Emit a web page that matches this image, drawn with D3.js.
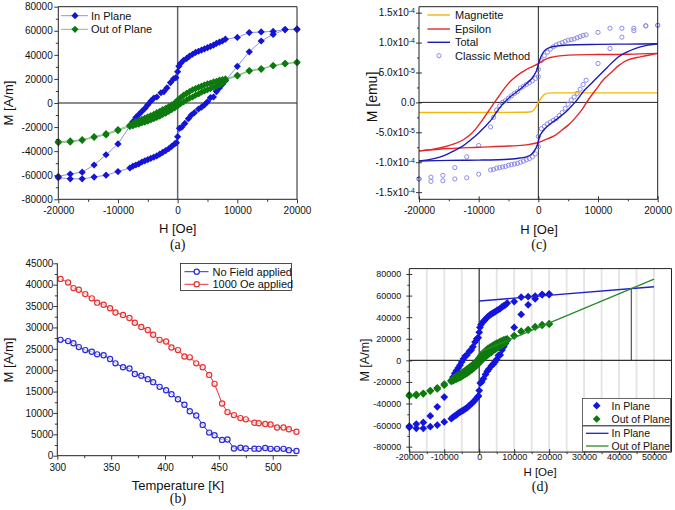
<!DOCTYPE html>
<html><head><meta charset="utf-8">
<script src="https://cdn.jsdelivr.net/npm/d3@7"></script>
<style>body{margin:0;background:#fff}svg{display:block}</style>
</head><body>
<script>
// ---------------- DATA ----------------
// Panel (a) & (d): hysteresis loops, H [Oe], M [A/m]
const inUpH = [20000,18000,16000,14000,12000,10000,8000,7500,7000,6500,6000,5500,5000,4500,4000,3500,3000,2500,2000,1500,1000,500,200,0,-300,-700,-1200,-1800,-2300,-2800,-3500,-4000,-4500,-5000,-5500,-6000,-6500,-7000,-7500,-8000,-10000,-12000,-14000,-16000,-18000,-20000];
const inUpM = [61000,61000,59500,59000,58500,54500,53000,51500,50500,49500,48000,47000,46000,45000,44000,43000,42000,40500,39000,37000,35500,33000,30500,26000,21000,20000,17000,12500,9500,8500,5000,4000,1500,-1500,-4500,-7000,-9500,-12000,-15500,-19000,-34000,-43000,-51500,-57500,-59000,-61000];
const inLoH = [-20000,-18000,-16000,-14000,-12000,-10000,-8000,-7500,-7000,-6500,-6000,-5500,-5000,-4500,-4000,-3500,-3000,-2500,-2000,-1500,-1000,-500,-200,0,300,700,1200,1800,2300,2800,3500,4000,4500,5000,5500,6000,6500,7000,7500,8000,10000,12000,14000,16000,18000,20000];
const inLoM = [-62000,-63000,-63000,-61500,-60000,-57000,-54000,-52500,-51500,-50500,-49000,-48000,-47000,-46000,-45000,-44000,-42500,-41000,-39500,-38000,-36000,-34000,-33000,-28000,-21000,-20000,-17000,-13000,-10000,-8000,-5000,-3500,-1500,1000,4500,5000,9500,12500,15500,18500,30500,42500,51500,57000,61000,61500];
const outUpH = [20000,18000,16000,14000,12000,10000,8000,7500,7000,6500,6000,5500,5000,4500,4000,3500,3000,2500,2000,1500,1000,500,0,-500,-1000,-1500,-2000,-2500,-3000,-3500,-4000,-4500,-5000,-5500,-6000,-6500,-7000,-7500,-8000,-10000,-12000,-14000,-16000,-18000,-20000];
const outUpM = [33500,33000,31000,28500,27000,23000,20000,19500,19000,18000,17500,16500,16000,15000,14000,13000,12000,11000,9500,8000,6500,4500,2500,0,-1500,-3000,-4500,-5500,-7000,-8000,-9500,-10500,-11500,-12500,-13500,-14500,-15500,-17000,-18500,-22000,-25500,-28000,-30500,-31500,-32000];
const outLoH = [-20000,-18000,-16000,-14000,-12000,-10000,-8000,-7500,-7000,-6500,-6000,-5500,-5000,-4500,-4000,-3500,-3000,-2500,-2000,-1500,-1000,-500,0,500,1000,1500,2000,2500,3000,3500,4000,4500,5000,5500,6000,6500,7000,7500,8000,10000,12000,14000,16000,18000,20000];
const outLoM = [-33000,-32500,-31000,-28500,-26500,-23000,-19500,-19000,-18000,-17500,-16500,-16000,-15000,-14000,-13000,-12000,-11000,-9500,-8500,-7000,-5500,-4000,-2500,-500,1000,2500,4000,5000,6500,7500,9000,10000,11000,12000,13000,14000,15000,16500,19000,22500,26500,28000,31000,32500,34000];
// Panel (d) linear fits (endpoints) and intersection
const fitH = [0, 50000];
const fitInM = [55000, 68200];
const fitOutM = [7400, 75300];
const crossH = 43500, crossM = 66500;

// Panel (b): M vs temperature
const tempK = [303,310,315,320,326,332,337,343,349,354,361,367,372,378,384,389,395,401,406,412,418,423,429,435,441,446,453,458,464,470,475,483,487,493,498,504,510,515,522];
const noFieldM = [27100,26800,26300,25400,24700,24300,23700,23500,22600,21600,20700,20400,19100,18700,17900,17200,16100,15300,14400,13200,11900,10400,9400,7200,5400,4800,3700,3800,1700,1850,1700,1650,1600,1800,1600,1600,1600,1300,1100];
const field1000M = [41350,40500,39200,38800,37800,36800,35800,35300,34500,33500,32900,32200,31100,30100,29400,28300,27100,26700,25300,24700,23200,23000,21600,20700,18900,16800,12200,10200,9500,8800,8500,7700,7600,7400,7300,6600,6600,6200,5600];

// Panel (c): M [emu] vs H [Oe]
const magH = [-20000,-10000,-3000,-1500,-1000,-500,0,500,1000,1500,3000,10000,20000];
const magM = [-17e-6,-17e-6,-16.5e-6,-16e-6,-14.5e-6,-9e-6,0,8e-6,13e-6,15.5e-6,16e-6,16e-6,16e-6];
const epsUpH = [20000,15000,10000,5000,2000,1000,0,-1000,-2000,-3000,-4500,-5500,-6700,-7500,-9000,-10000,-11200,-12500,-14000,-16000,-18000,-20000];
const epsUpM = [82e-6,80.5e-6,80e-6,79e-6,75e-6,71e-6,65e-6,60e-6,55e-6,49e-6,37e-6,26e-6,9e-6,-2e-6,-24e-6,-38e-6,-52e-6,-62e-6,-69e-6,-75e-6,-79e-6,-81e-6];
const epsLoH = [-20000,-15000,-10000,-5000,-2000,0,1000,2800,4000,5000,6000,7250,8350,10000,11000,12300,13500,15000,16500,18000,20000];
const epsLoM = [-81e-6,-77e-6,-75e-6,-73e-6,-71e-6,-67e-6,-63e-6,-55e-6,-46e-6,-38e-6,-28e-6,-13e-6,4e-6,26e-6,39e-6,51e-6,62e-6,71e-6,75e-6,78e-6,82e-6];
const totUpH = [20000,15000,10000,5000,3000,2000,1200,600,200,0,-300,-1100,-2000,-2800,-4500,-5300,-6150,-7000,-7800,-9000,-10000,-11500,-12800,-14000,-15600,-17500,-20000];
const totUpM = [98e-6,97.5e-6,97e-6,96e-6,94e-6,92e-6,88e-6,80e-6,70e-6,64e-6,53e-6,40e-6,31e-6,24e-6,11e-6,4e-6,-5e-6,-16e-6,-28e-6,-41e-6,-51e-6,-64e-6,-74e-6,-80e-6,-88e-6,-94e-6,-98e-6];
const totLoH = [-20000,-15000,-10000,-5000,-3000,-2000,-1200,-600,-200,0,300,1100,2000,2800,4500,5300,6150,7000,7800,9000,10000,11500,13400,15000,16200,18000,20000];
const totLoM = [-98e-6,-97e-6,-96.5e-6,-95e-6,-93e-6,-91e-6,-87e-6,-80e-6,-72e-6,-65e-6,-55e-6,-44e-6,-36e-6,-30e-6,-17e-6,-9e-6,0,11e-6,21e-6,33e-6,43e-6,58e-6,76e-6,85e-6,90e-6,95e-6,98e-6];
const clUpH = [20000,18000,16000,14000,12000,10000,8000,7500,7000,6500,6000,5500,5000,4500,4000,3500,3000,2500,2000,1500,1000,500,0,0,-500,-1000,-1500,-2000,-2500,-3000,-3500,-4000,-4500,-5000,-5500,-6000,-6500,-7000,-7500,-8000,-10000,-12000,-14000,-16000,-18000,-20000];
const clUpM = [129e-6,128e-6,124e-6,124e-6,124e-6,117e-6,113e-6,112e-6,110e-6,108e-6,106e-6,105e-6,104e-6,102e-6,100e-6,98e-6,96e-6,93e-6,89e-6,84e-6,78e-6,70e-6,55e-6,43e-6,40e-6,36e-6,33e-6,30e-6,27e-6,24e-6,18e-6,15e-6,11e-6,7e-6,3e-6,0,-6e-6,-13e-6,-25e-6,-41e-6,-72e-6,-91e-6,-109e-6,-122e-6,-125e-6,-128e-6];
const clLoH = [-20000,-18000,-16000,-14000,-12000,-10000,-8000,-7500,-7000,-6500,-6000,-5500,-5000,-4500,-4000,-3500,-3000,-2500,-2000,-1500,-1000,-500,0,0,500,1000,1500,2000,2500,3000,3500,4000,4500,5000,5500,6000,6500,7000,7500,8000,10000,12000,14000,16000,18000,20000];
const clLoM = [-128e-6,-132e-6,-131e-6,-128e-6,-126e-6,-120e-6,-113e-6,-112e-6,-110e-6,-109e-6,-108e-6,-107e-6,-105e-6,-104e-6,-103e-6,-102e-6,-100e-6,-98e-6,-96e-6,-94e-6,-91e-6,-86e-6,-74e-6,-57e-6,-44e-6,-40e-6,-36e-6,-33e-6,-30e-6,-27e-6,-22e-6,-17e-6,-10e-6,-3e-6,4e-6,9e-6,15e-6,22e-6,30e-6,37e-6,65e-6,90e-6,109e-6,120e-6,128e-6,129e-6];

// Ticks
const aXTicks = [-20000,-10000,0,10000,20000], aXMinor = [-15000,-5000,5000,15000];
const aYTicks = [-80000,-60000,-40000,-20000,0,20000,40000,60000,80000], aYMinor = [-70000,-50000,-30000,-10000,10000,30000,50000,70000];
const bXTicks = [300,350,400,450,500], bXMinor = [325,375,425,475,525].filter(v=>v<=523);
const bYTicks = [0,5000,10000,15000,20000,25000,30000,35000,40000,45000], bYMinor = [2500,7500,12500,17500,22500,27500,32500,37500,42500];
const cXTicks = aXTicks, cXMinor = aXMinor;
const cYTicks = [-1.5e-4,-1.0e-4,-5e-5,0,5e-5,1.0e-4,1.5e-4], cYMinor = [-1.25e-4,-7.5e-5,-2.5e-5,2.5e-5,7.5e-5,1.25e-4];
const cYMant = ["-1.5","-1.0","-5.0","0.0","5.0","1.0","1.5"], cYExp = ["-4","-4","-5","","-5","-4","-4"];
const dXTicks = [-20000,-10000,0,10000,20000,30000,40000,50000], dXMinor = [-15000,-5000,5000,15000,25000,35000,45000,55000];
const dGrid = [-15000,-10000,-5000,5000,10000,15000,20000,25000,30000,35000,40000,45000,50000];
const dYTicks = aYTicks, dYMinor = aYMinor;

// ---------------- DRAW ----------------
const FONT = "'Liberation Sans', Arial, sans-serif", SERIF = "'Liberation Serif','Times New Roman',serif";
const svg = d3.select("body").append("svg").attr("width",675).attr("height",510);
const zip = (a,b)=>a.map((v,i)=>[v,b[i]]);

function axes(o){
  const g = svg.append("g");
  const x=o.x, y=o.y, [xl,xr]=x.range(), [yb,yt]=y.range();
  const bt=`translate(0,${yb})`, lt=`translate(${xl},0)`;
  const tk=(fn,sc,vals,size,tr)=>{ if(!size) return; const a=g.append("g").attr("transform",tr).call(fn(sc).tickValues(vals).tickSize(size).tickSizeOuter(0).tickFormat("")); a.select(".domain").remove(); a.selectAll("line").attr("stroke","#222").attr("stroke-width",0.9); };
  tk(d3.axisBottom,x,o.xMajor,o.majOut,bt); tk(d3.axisBottom,x,o.xMajor,-(o.majIn||0),bt);
  tk(d3.axisBottom,x,o.xMinor,o.minOut,bt); tk(d3.axisBottom,x,o.xMinor,-(o.minIn||0),bt);
  tk(d3.axisLeft,y,o.yMajor,o.majOut,lt); tk(d3.axisLeft,y,o.yMajor,-(o.majIn||0),lt);
  tk(d3.axisLeft,y,o.yMinor,o.minOut,lt); tk(d3.axisLeft,y,o.yMinor,-(o.minIn||0),lt);
  const xl_ = g.append("g").attr("transform",bt).call(d3.axisBottom(x).tickValues(o.xMajor).tickSize(0).tickPadding(o.xPad).tickFormat(d=>String(d)));
  const yl_ = g.append("g").attr("transform",lt).call(d3.axisLeft(y).tickValues(o.yMajor).tickSize(0).tickPadding(o.yPad).tickFormat(o.yFmt||(d=>String(d))));
  [xl_,yl_].forEach(a=>{a.select(".domain").remove(); a.attr("font-family",FONT).attr("font-size",o.fs).selectAll("text").attr("fill","#111");});
  const fr = [[xl,yb,xr,yb],[xl,yb,xl,yt]];
  if(o.box){ fr.push([xl,yt,xr,yt],[xr,yb,xr,yt]); }
  g.selectAll(".fr").data(fr).join("line").attr("x1",d=>d[0]).attr("y1",d=>d[1]).attr("x2",d=>d[2]).attr("y2",d=>d[3]).attr("stroke","#222").attr("stroke-width",1);
  return {g, yl_};
}
function text(x,y,s,size,opt={}){
  const t=svg.append("text").attr("x",x).attr("y",y).attr("text-anchor",opt.anchor||"middle").attr("font-family",opt.serif?SERIF:FONT).attr("font-size",size).attr("fill","#111").text(s);
  if(opt.rot) t.attr("transform",`rotate(-90,${x},${y})`);
  return t;
}
const diamond = (s)=>d3.symbol(d3.symbolSquare, s);

// ===== Panel (a) =====
{
  const x=d3.scaleLinear().domain([-20000,20000]).range([58.3,297]);
  const y=d3.scaleLinear().domain([-80000,80000]).range([199.3,6.7]);
  const zl=svg.append("g");
  zl.append("line").attr("x1",x.range()[0]).attr("x2",x.range()[1]).attr("y1",y(0)).attr("y2",y(0)).attr("stroke","#666").attr("stroke-width",1.5);
  zl.append("line").attr("x1",x(0)).attr("x2",x(0)).attr("y1",y.range()[0]).attr("y2",y.range()[1]).attr("stroke","#666").attr("stroke-width",1.5);
  const line=d3.line().x(d=>x(d[0])).y(d=>y(d[1]));
  const series=[
    {pts: zip(inUpH.concat(inLoH), inUpM.concat(inLoM)), c:"#1414d6", lc:"#9090ea"},
    {pts: zip(outUpH.concat(outLoH), outUpM.concat(outLoM)), c:"#0c7a0c", lc:"#88c088"}
  ];
  series.forEach(s=>{
    svg.append("path").attr("d",line(s.pts)).attr("fill","none").attr("stroke",s.lc).attr("stroke-width",1);
    svg.append("g").selectAll("path").data(s.pts).join("path").attr("d",diamond(26)).attr("fill",s.c)
      .attr("transform",d=>`translate(${x(d[0])},${y(d[1])}) rotate(45)`);
  });
  axes({x,y,xMajor:aXTicks,xMinor:aXMinor,yMajor:aYTicks,yMinor:aYMinor,majOut:4,minOut:2.5,xPad:7.9,yPad:5.6,fs:10,box:true});
  // legend
  const lg=[{t:"In Plane",c:"#1414d6",lc:"#9090ea",y:15.7},{t:"Out of Plane",c:"#0c7a0c",lc:"#88c088",y:29.3}];
  lg.forEach(l=>{
    svg.append("line").attr("x1",61).attr("x2",88).attr("y1",l.y).attr("y2",l.y).attr("stroke",l.lc).attr("stroke-width",1);
    svg.append("path").attr("d",diamond(26)).attr("fill",l.c).attr("transform",`translate(75,${l.y}) rotate(45)`);
    text(91,l.y+4,l.t,11,{anchor:"start"});
  });
  text(8.5+4.5,103,"M [A/m]",13,{rot:true});
  text(177.7,232.6,"H [Oe]",13);
  text(177.7,249,"(a)",14,{serif:true});
}

// ===== Panel (c) =====
{
  const x=d3.scaleLinear().domain([-20000,20000]).range([419,657.7]);
  const y=d3.scaleLinear().domain([-1.62e-4,1.6e-4]).range([199.3,6.7]);
  svg.append("line").attr("x1",x.range()[0]).attr("x2",x.range()[1]).attr("y1",y(0)).attr("y2",y(0)).attr("stroke","#222").attr("stroke-width",1);
  svg.append("line").attr("x1",x(0)).attr("x2",x(0)).attr("y1",y.range()[0]).attr("y2",y.range()[1]).attr("stroke","#222").attr("stroke-width",1);
  svg.append("g").selectAll("circle").data(zip(clUpH.concat(clLoH), clUpM.concat(clLoM))).join("circle")
    .attr("cx",d=>x(d[0])).attr("cy",d=>y(d[1])).attr("r",2.1).attr("fill","none").attr("stroke","#8a8aee").attr("stroke-width",1);
  const line=d3.line().x(d=>x(d[0])).y(d=>y(d[1])).curve(d3.curveMonotoneX);
  const lineC=d3.line().x(d=>x(d[0])).y(d=>y(d[1])).curve(d3.curveCatmullRom.alpha(0.5));
  const curves=[
    {h:magH,m:magM,c:"#f2b80a",mono:true},
    {h:epsUpH,m:epsUpM,c:"#e2282c"},{h:epsLoH,m:epsLoM,c:"#e2282c"},
    {h:totUpH,m:totUpM,c:"#1c1cb2"},{h:totLoH,m:totLoM,c:"#1c1cb2"}
  ];
  curves.forEach(cv=>{
    svg.append("path").attr("d",(cv.mono?line:lineC)(zip(cv.h,cv.m))).attr("fill","none").attr("stroke",cv.c).attr("stroke-width",1.4);
  });
  const ax=axes({x,y,xMajor:cXTicks,xMinor:cXMinor,yMajor:cYTicks,yMinor:cYMinor,majOut:3,majIn:3,minOut:2,xPad:7.9,yPad:4,fs:10,box:true,yFmt:()=>""});
  ax.yl_.selectAll("text").each(function(d,i){
    const t=d3.select(this).text(cYMant[i]+(cYExp[i]?"x10":""));
    if(cYExp[i]) t.append("tspan").attr("dy","-0.45em").attr("font-size",7).text(cYExp[i]);
  });
  const lg=[{t:"Magnetite",c:"#f2b80a",y:15},{t:"Epsilon",c:"#e2282c",y:29},{t:"Total",c:"#1c1cb2",y:42.3}];
  lg.forEach(l=>{
    svg.append("line").attr("x1",427.5).attr("x2",450).attr("y1",l.y).attr("y2",l.y).attr("stroke",l.c).attr("stroke-width",1.4);
    text(455,l.y+4,l.t,11,{anchor:"start"});
  });
  svg.append("circle").attr("cx",439).attr("cy",55.7).attr("r",2.1).attr("fill","none").attr("stroke","#8a8aee");
  text(455,59.7,"Classic Method",11,{anchor:"start"});
  text(371.7+5,97,"M [emu]",14,{rot:true});
  text(539,233.5,"H [Oe]",13);
  text(539,249,"(c)",14,{serif:true});
}

// ===== Panel (b) =====
{
  const x=d3.scaleLinear().domain([300,523]).range([57.3,297.5]);
  const y=d3.scaleLinear().domain([0,45000]).range([455.7,263.3]);
  const line=d3.line().x(d=>x(d[0])).y(d=>y(d[1]));
  const series=[{m:field1000M,c:"#e63232"},{m:noFieldM,c:"#2a2ad6"}];
  series.forEach(s=>{
    const pts=zip(tempK,s.m);
    svg.append("path").attr("d",line(pts)).attr("fill","none").attr("stroke",s.c).attr("stroke-width",1);
    svg.append("g").selectAll("circle").data(pts).join("circle").attr("cx",d=>x(d[0])).attr("cy",d=>y(d[1])).attr("r",2.6)
      .attr("fill","#fff").attr("fill-opacity",0.6).attr("stroke",s.c).attr("stroke-width",1.2);
  });
  axes({x,y,xMajor:bXTicks,xMinor:bXMinor,yMajor:bYTicks,yMinor:bYMinor,majOut:4,minOut:2.5,xPad:8.2,yPad:4,fs:10,box:false});
  svg.append("rect").attr("x",180.5).attr("y",263.5).attr("width",111).attr("height",27).attr("fill","#fff").attr("stroke","#222").attr("stroke-width",0.8);
  const lg=[{t:"No Field applied",c:"#2a2ad6",y:271.7},{t:"1000 Oe applied",c:"#e63232",y:284.3}];
  lg.forEach(l=>{
    svg.append("line").attr("x1",184.5).attr("x2",208.5).attr("y1",l.y).attr("y2",l.y).attr("stroke",l.c).attr("stroke-width",1);
    svg.append("circle").attr("cx",196.7).attr("cy",l.y).attr("r",2.6).attr("fill","#fff").attr("stroke",l.c).attr("stroke-width",1.2);
    text(212.5,l.y+4,l.t,11,{anchor:"start"});
  });
  text(8.3+4.5,360,"M [A/m]",13,{rot:true});
  text(178,489.5,"Temperature [K]",13);
  text(178,503,"(b)",14,{serif:true});
}

// ===== Panel (d) =====
{
  const x=d3.scaleLinear().domain([-20000,55000]).range([409.3,671.5]);
  const y=d3.scaleLinear().domain([-85000,85000]).range([452.1,268.6]);
  svg.append("g").selectAll("line").data(dGrid).join("line").attr("x1",d=>x(d)).attr("x2",d=>x(d)).attr("y1",y.range()[0]).attr("y2",y.range()[1]).attr("stroke","#e4e4e4").attr("stroke-width",1.8);
  svg.append("line").attr("x1",x.range()[0]).attr("x2",x.range()[1]).attr("y1",y(0)).attr("y2",y(0)).attr("stroke","#333").attr("stroke-width",1.2);
  svg.append("line").attr("x1",x(0)).attr("x2",x(0)).attr("y1",y.range()[0]).attr("y2",y.range()[1]).attr("stroke","#555").attr("stroke-width",1.5);
  svg.append("line").attr("x1",x(crossH)).attr("x2",x(crossH)).attr("y1",y(0)).attr("y2",y(crossM)).attr("stroke","#333").attr("stroke-width",1);
  const line=d3.line().x(d=>x(d[0])).y(d=>y(d[1]));
  [{h:inUpH.concat(inLoH),m:inUpM.concat(inLoM),c:"#1414e0"},{h:outUpH.concat(outLoH),m:outUpM.concat(outLoM),c:"#0c7a0c"}].forEach(s=>{
    svg.append("g").selectAll("path").data(zip(s.h,s.m)).join("path").attr("d",diamond(30)).attr("fill",s.c)
      .attr("transform",d=>`translate(${x(d[0])},${y(d[1])}) rotate(45)`);
  });
  svg.append("path").attr("d",line(zip(fitH,fitInM))).attr("stroke","#2020d0").attr("stroke-width",1.3).attr("fill","none");
  svg.append("path").attr("d",line(zip(fitH,fitOutM))).attr("stroke","#2a8a2a").attr("stroke-width",1.3).attr("fill","none");
  axes({x,y,xMajor:dXTicks,xMinor:dXMinor.filter(v=>v<55000),yMajor:dYTicks,yMinor:dYMinor,majOut:3,majIn:3,minOut:2,xPad:2,yPad:8,fs:9,box:true});
  // legend
  svg.append("rect").attr("x",582.5).attr("y",398.5).attr("width",88).attr("height",27).attr("fill","#fff").attr("stroke","#444").attr("stroke-width",0.8);
  svg.append("rect").attr("x",582.5).attr("y",426).attr("width",88).attr("height",25.5).attr("fill","#fff").attr("stroke","#444").attr("stroke-width",0.8);
  [{t:"In Plane",c:"#1414e0",y:405.7},{t:"Out of Plane",c:"#0c7a0c",y:419}].forEach(l=>{
    svg.append("path").attr("d",diamond(30)).attr("fill",l.c).attr("transform",`translate(596.7,${l.y}) rotate(45)`);
    text(611.5,l.y+3.8,l.t,10.5,{anchor:"start"});
  });
  [{t:"In Plane",c:"#2020d0",y:433.3},{t:"Out of Plane",c:"#2a8a2a",y:446}].forEach(l=>{
    svg.append("line").attr("x1",586).attr("x2",608.5).attr("y1",l.y).attr("y2",l.y).attr("stroke",l.c).attr("stroke-width",1.3);
    text(611.5,l.y+3.8,l.t,10.5,{anchor:"start"});
  });
  text(364+4.5,360,"M [A/m]",12.5,{rot:true});
  text(540,476,"H [Oe]",11.5);
  text(540,491,"(d)",14,{serif:true});
}
</script>
</body></html>
